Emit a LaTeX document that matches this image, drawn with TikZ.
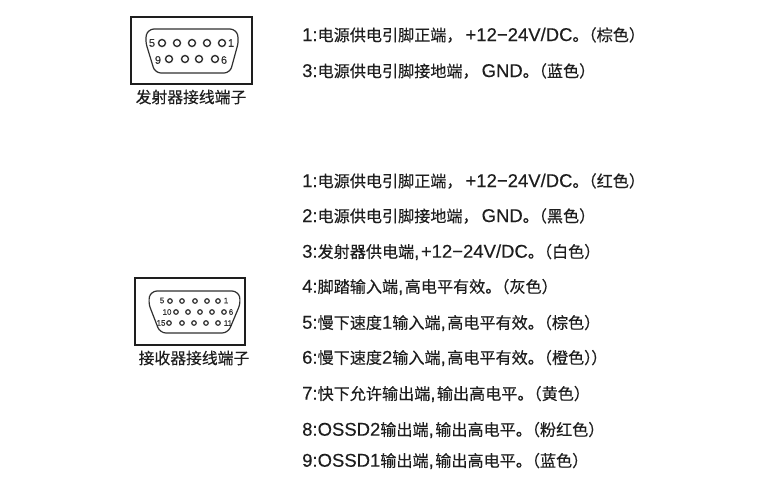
\documentclass[tikz,border=0pt]{standalone}
\usepackage{fontspec}
\setmainfont{Liberation Sans}[FakeBold=0.25]
\newfontfamily\cjk{Noto Sans CJK SC}[FakeBold=0.35]
\definecolor{ink}{HTML}{1E1E1E}
\definecolor{pinc}{HTML}{303030}
\newcommand{\C}[1]{{\fontsize{16.1}{16}\selectfont\cjk #1}}
\newcommand{\Tail}[1]{{\fontsize{16.1}{16}\selectfont\cjk 。\hspace{-8pt}（#1）}}
\newcommand{\Cm}{{,}\hspace{1.5pt}}
\newcommand{\Fw}{\C{，}\hspace{3pt}}
\tikzset{
 x=1pt,y=-1pt,
 frame/.style={draw=ink,line width=1.5pt,fill=white},
 shell/.style={draw=pinc,line width=1.2pt,rounded corners=6pt},
 spec/.style={anchor=west,text=ink,font=\fontsize{18.5}{18}\selectfont,inner sep=0pt},
 captext/.style={text=ink,font=\cjk\fontsize{15.8}{16}\selectfont,inner sep=0pt},
 pinA/.style={circle,draw=pinc,line width=1.4pt,minimum size=7pt,inner sep=0pt},
 pinB/.style={circle,draw=pinc,line width=1.2pt,minimum size=4.5pt,inner sep=0pt},
 numA/.style={text=pinc,font=\fontsize{11}{11}\selectfont,inner sep=0pt},
 numB/.style={text=pinc,font=\fontsize{8}{9}\selectfont,inner sep=0pt},
}
\begin{document}
\begin{tikzpicture}
\useasboundingbox (0,0) rectangle (762,480);
\fill[white] (0,0) rectangle (762,480);
% emitter connector
\draw[frame] (131,17) rectangle (252,84);
\draw[shell] (145,40) -- (148,29) -- (236,29) -- (239,40) -- (230,73) -- (155,73) -- cycle;
\foreach \n/\x in {a1/162,a2/177,a3/192,a4/207,a5/222} \node[pinA] (\n) at (\x,43) {};
\foreach \n/\x in {b1/169,b2/185,b3/199,b4/215} \node[pinA] (\n) at (\x,59) {};
\node[numA] (na5) at (152,43) {5};
\node[numA] (na1) at (231,43) {1};
\node[numA] (na9) at (158,60) {9};
\node[numA] (na6) at (224,60) {6};
\node[captext] (capa) at (191,97) {发射器接线端子};
% receiver connector
\draw[frame] (135,278) rectangle (245,345);
\draw[shell] (148,302) -- (151,291) -- (238,291) -- (241,302) -- (228,333) -- (160,333) -- cycle;
\foreach \n/\x in {c1/170,c2/182,c3/195,c4/207,c5/218} \node[pinB] (\n) at (\x,301) {};
\foreach \n/\x in {d1/176,d2/188,d3/200,d4/212,d5/224} \node[pinB] (\n) at (\x,312) {};
\foreach \n/\x in {e1/169,e2/182,e3/194,e4/206,e5/218} \node[pinB] (\n) at (\x,323) {};
\node[numB] (nb5) at (162,300.5) {5};
\node[numB] (nb1) at (226,300.5) {1};
\node[numB] (nb10) at (167,312) {10};
\node[numB] (nb6) at (231,312) {6};
\node[numB] (nb15) at (161,323) {15};
\node[numB] (nb11) at (228,323) {11};
\node[captext] (capb) at (194,358) {接收器接线端子};
% text
\node[spec] (t1) at (302,35) {1:\C{电源供电引脚正端}\Fw+12−24V/DC\Tail{棕色}};
\node[spec] (t2) at (302,71) {3:\C{电源供电引脚接地端}\Fw GND\Tail{蓝色}};
\node[spec] (r1) at (302,181) {1:\C{电源供电引脚正端}\Fw+12−24V/DC\Tail{红色}};
\node[spec] (r2) at (302,216) {2:\C{电源供电引脚接地端}\Fw GND\Tail{黑色}};
\node[spec] (r3) at (302,252) {3:\C{发射器供电端}\Cm+12−24V/DC\Tail{白色}};
\node[spec] (r4) at (302,287) {4:\C{脚踏输入端}\Cm\C{高电平有效}\Tail{灰色}};
\node[spec] (r5) at (302,323) {5:\C{慢下速度}1\C{输入端}\Cm\C{高电平有效}\Tail{棕色}};
\node[spec] (r6) at (302,358) {6:\C{慢下速度}2\C{输入端}\Cm\C{高电平有效}\Tail{橙色）\hspace{-9pt}}};
\node[spec] (r7) at (302,394) {7:\C{快下允许输出端}\Cm\C{输出高电平}\Tail{黄色}};
\node[spec] (r8) at (302,430) {8:OSSD2\C{输出端}\Cm\C{输出高电平}\Tail{粉红色}};
\node[spec] (r9) at (302,461) {9:OSSD1\C{输出端}\Cm\C{输出高电平}\Tail{蓝色}};
\end{tikzpicture}
\end{document}
